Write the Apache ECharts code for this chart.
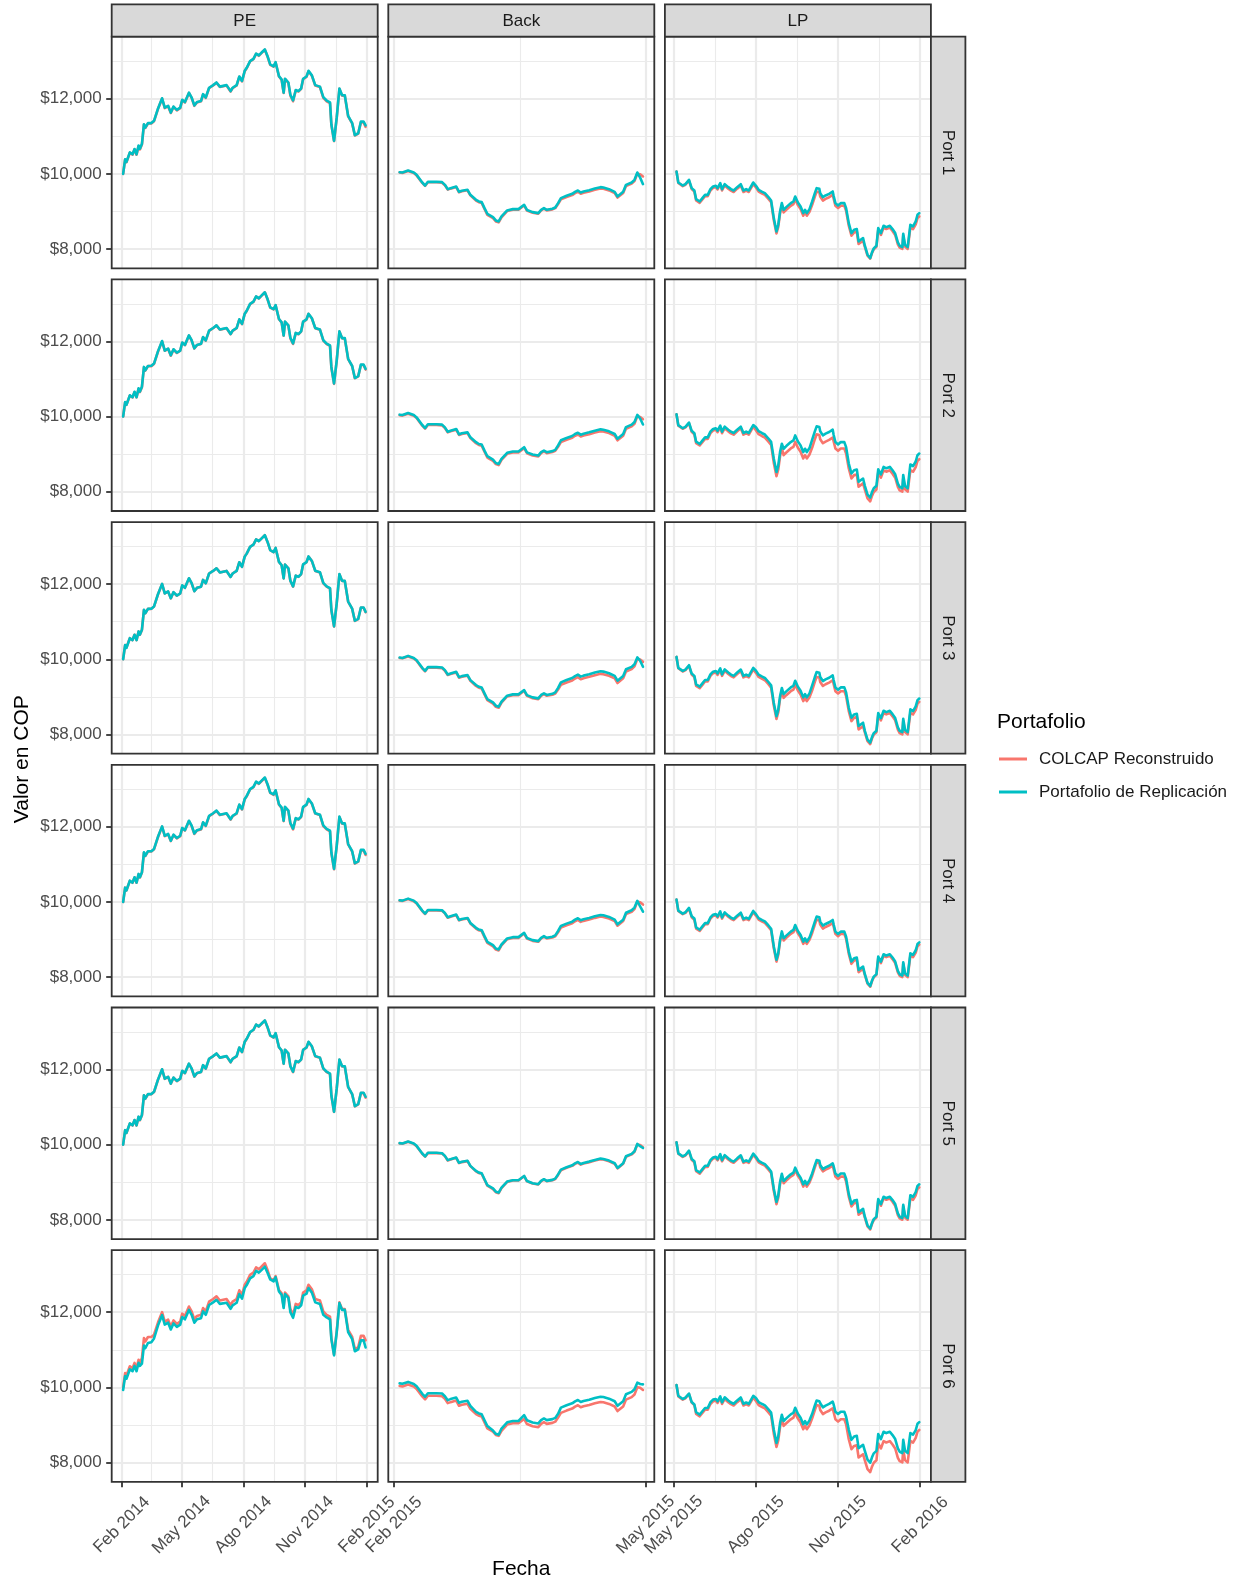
<!DOCTYPE html>
<html>
<head>
<meta charset="utf-8">
<script src="https://cdn.jsdelivr.net/npm/echarts@6/dist/echarts.min.js"></script>
<style>
  html, body { margin: 0; padding: 0; background: #ffffff; }
  #chart { width: 1241px; height: 1585px; }
</style>
</head>
<body>
<div id="chart"></div>
<script>
// ---------- Datos ----------
const periodos = ['PE', 'Back', 'LP'];
const portafolios = ['Port 1', 'Port 2', 'Port 3', 'Port 4', 'Port 5', 'Port 6'];
const serieNombres = ['COLCAP Reconstruido', 'Portafolio de Replicación'];

const yCortes = [8000, 10000, 12000];
const yCortesMenores = [9000, 11000, 13000];
const yRango = [7488, 13648];

const cortesPE = ['2014-02-01', '2014-05-01', '2014-08-01', '2014-11-01', '2015-02-01'];
const cortesBack = ['2015-02-01', '2015-05-01'];
const cortesLP = ['2015-05-01', '2015-08-01', '2015-11-01', '2016-02-01'];
const rangoPE = ['2014-01-17', '2015-02-17'];
const rangoBack = ['2015-01-30', '2015-05-04'];
const rangoLP = ['2015-04-21', '2016-02-13'];

// Periodo de estimación (PE)
const fechasPE = ['2014-02-03','2014-02-06','2014-02-08','2014-02-13','2014-02-17','2014-02-20','2014-02-23','2014-02-26','2014-02-28',
'2014-03-03','2014-03-06','2014-03-08','2014-03-12','2014-03-17','2014-03-21','2014-03-27',
'2014-04-02','2014-04-06','2014-04-11','2014-04-15','2014-04-19','2014-04-24','2014-04-29',
'2014-05-02','2014-05-06','2014-05-12','2014-05-16','2014-05-20','2014-05-24','2014-05-30',
'2014-06-02','2014-06-06','2014-06-11','2014-06-17','2014-06-22','2014-06-27',
'2014-07-07','2014-07-13','2014-07-16','2014-07-22','2014-07-26','2014-07-30',
'2014-08-03','2014-08-06','2014-08-11','2014-08-16','2014-08-20','2014-08-24','2014-08-29',
'2014-09-02','2014-09-06','2014-09-10','2014-09-15','2014-09-18','2014-09-23','2014-09-27','2014-09-30',
'2014-10-02','2014-10-04','2014-10-07','2014-10-10','2014-10-14','2014-10-18','2014-10-22','2014-10-26','2014-10-29',
'2014-11-03','2014-11-06','2014-11-11','2014-11-16','2014-11-23','2014-11-28',
'2014-12-03','2014-12-05','2014-12-08','2014-12-10','2014-12-14','2014-12-18','2014-12-22','2014-12-26','2014-12-30',
'2015-01-04','2015-01-10','2015-01-14','2015-01-19','2015-01-23','2015-01-27','2015-01-30'];
const colcapPE = [10000,10380,10310,10560,10510,10650,10510,10735,10650,10780,
11310,11220,11340,11340,11400,11730,12000,11750,11800,11620,
11780,11690,11750,11960,11900,12150,12020,11810,11900,11930,
12110,12020,12280,12350,12420,12310,12350,12190,12280,12350,
12580,12460,12730,12810,12990,13050,13190,13140,13230,13300,
13120,12900,12850,12960,12590,12500,12150,12520,12550,12420,
12080,11930,12220,12190,12260,12520,12580,12730,12610,12350,
12310,12020,11930,11970,11880,11310,10870,11490,12260,12080,
12080,11530,11340,11020,11070,11370,11370,11250];
const replicaPE1 = [10000,10390,10320,10570,10520,10660,10520,10755,10670,10800,
11320,11230,11350,11350,11410,11740,12010,11760,11810,11630,
11790,11700,11760,11970,11910,12160,12030,11820,11910,11940,
12120,12030,12290,12360,12430,12320,12360,12200,12290,12360,
12590,12470,12740,12820,13000,13060,13200,13150,13240,13310,
13130,12910,12860,12970,12600,12510,12160,12530,12560,12430,
12105,11955,12230,12200,12270,12530,12590,12740,12620,12360,
12320,12040,11950,11990,11900,11320,10880,11500,12270,12090,
12090,11540,11350,11030,11080,11390,11390,11290];
const replicaPE2 = [10000,10385,10315,10565,10515,10660,10515,10750,10665,10795,
11320,11230,11345,11350,11410,11740,12010,11755,11810,11630,
11790,11700,11755,11970,11905,12160,12030,11815,11905,11935,
12115,12025,12285,12355,12425,12315,12355,12195,12285,12355,
12585,12465,12735,12815,12995,13055,13195,13145,13235,13305,
13125,12905,12855,12965,12595,12505,12155,12525,12555,12425,
12095,11945,12225,12195,12265,12525,12585,12735,12615,12355,
12315,12030,11940,11980,11890,11320,10880,11495,12265,12085,
12085,11535,11345,11025,11075,11380,11380,11270];
const replicaPE3 = [10000,10375,10305,10560,10510,10650,10510,10740,10655,10785,
11315,11225,11340,11345,11405,11735,12005,11750,11805,11625,
11785,11695,11750,11965,11900,12155,12025,11810,11900,11930,
12110,12020,12280,12350,12420,12310,12350,12190,12280,12350,
12580,12460,12730,12810,12990,13050,13190,13140,13230,13300,
13120,12900,12850,12960,12590,12500,12150,12520,12550,12420,
12090,11940,12225,12195,12265,12525,12585,12735,12615,12355,
12315,12030,11940,11980,11890,11315,10875,11495,12265,12085,
12085,11535,11345,11025,11075,11375,11375,11260];
const replicaPE4 = [10000,10380,10310,10565,10515,10655,10515,10745,10660,10790,
11320,11230,11350,11350,11410,11740,12010,11760,11810,11630,
11790,11700,11760,11970,11910,12160,12030,11820,11910,11940,
12120,12030,12290,12360,12430,12320,12360,12200,12290,12360,
12590,12470,12740,12820,13000,13060,13200,13150,13240,13310,
13130,12910,12860,12970,12600,12510,12160,12530,12560,12430,
12100,11950,12230,12200,12270,12530,12590,12740,12620,12360,
12320,12035,11945,11985,11895,11320,10880,11500,12270,12090,
12090,11540,11350,11030,11080,11385,11385,11280];
const replicaPE5 = [10000,10385,10315,10565,10515,10655,10515,10745,10660,10790,
11315,11225,11345,11345,11405,11735,12005,11755,11805,11625,
11785,11695,11755,11965,11905,12155,12025,11815,11905,11935,
12115,12025,12285,12355,12425,12315,12355,12195,12285,12355,
12585,12465,12735,12815,12995,13055,13195,13145,13235,13305,
13125,12905,12855,12965,12595,12505,12155,12525,12555,12425,
12090,11940,12225,12195,12265,12525,12585,12735,12615,12355,
12315,12030,11940,11980,11890,11315,10875,11495,12265,12085,
12085,11535,11345,11025,11075,11380,11380,11275];
const replicaPE6 = [9930,10300,10230,10480,10430,10570,10430,10655,10570,10630,
11110,11040,11180,11200,11300,11650,11920,11670,11720,11540,
11700,11610,11670,11870,11810,12060,11930,11720,11810,11840,
12020,11930,12190,12260,12330,12220,12250,12090,12180,12250,
12480,12360,12640,12720,12900,12960,13100,13050,13140,13210,
13050,12870,12820,12930,12550,12460,12110,12480,12510,12380,
12000,11850,12140,12110,12180,12440,12490,12640,12520,12260,
12220,11930,11860,11900,11810,11290,10850,11470,12240,12060,
12060,11470,11280,10960,11010,11250,11250,11060];

// Backtest (Back)
const fechasBack = ['2015-02-03','2015-02-04','2015-02-06','2015-02-08','2015-02-09','2015-02-11','2015-02-12','2015-02-13','2015-02-16','2015-02-18',
'2015-02-19','2015-02-20','2015-02-21','2015-02-23','2015-02-24','2015-02-25','2015-02-27','2015-02-28',
'2015-03-02','2015-03-03','2015-03-04','2015-03-05','2015-03-06','2015-03-08','2015-03-09','2015-03-10','2015-03-11','2015-03-13',
'2015-03-15','2015-03-17','2015-03-19','2015-03-20','2015-03-22','2015-03-24','2015-03-25','2015-03-26','2015-03-27','2015-03-29','2015-03-30','2015-03-31',
'2015-04-01','2015-04-03','2015-04-05','2015-04-06','2015-04-07','2015-04-08','2015-04-09','2015-04-11','2015-04-13','2015-04-15',
'2015-04-16','2015-04-18','2015-04-20','2015-04-21','2015-04-23','2015-04-24','2015-04-26','2015-04-27','2015-04-28','2015-04-29','2015-04-30'];
const colcapBack = [10035,10025,10075,10020,9960,9758,9680,9775,9775,9765,9695,9580,9607,9650,9510,9535,9562,9428,
9290,9245,9225,9065,8910,8820,8735,8710,8845,9010,9045,9045,9160,9025,8965,8940,9028,9072,9028,9055,9088,9195,
9320,9382,9435,9488,9523,9470,9497,9532,9577,9612,9603,9560,9490,9368,9492,9675,9740,9810,10005,9990,9930];
const replicaBack1 = [10044,10035,10088,10035,9973,9770,9690,9788,9788,9779,9708,9593,9620,9664,9522,9549,9575,9442,
9310,9265,9248,9088,8938,8850,8761,8735,8867,9027,9062,9062,9177,9040,8982,8956,9044,9088,9044,9071,9106,9221,
9354,9416,9469,9522,9558,9505,9531,9566,9611,9646,9637,9593,9522,9398,9522,9708,9770,9841,10035,9900,9726];
const replicaBack2 = [10050,10040,10095,10040,9978,9775,9695,9795,9795,9785,9712,9598,9625,9670,9528,9555,9580,9448,
9318,9270,9255,9095,8945,8855,8765,8740,8875,9035,9070,9070,9185,9048,8990,8962,9052,9095,9052,9080,9115,9232,
9368,9430,9482,9535,9570,9518,9545,9580,9625,9660,9650,9606,9535,9410,9535,9720,9785,9855,10045,9950,9790];
const replicaBack3 = [10045,10035,10090,10035,9975,9772,9692,9790,9790,9780,9710,9596,9622,9666,9525,9552,9578,9445,
9315,9268,9250,9092,8942,8852,8765,8738,8870,9030,9066,9066,9180,9045,8986,8960,9050,9094,9050,9080,9118,9240,
9385,9448,9500,9552,9590,9538,9565,9600,9645,9680,9672,9628,9556,9430,9552,9735,9798,9868,10050,9960,9800];
const replicaBack4 = [10044,10035,10088,10035,9973,9770,9690,9788,9788,9779,9708,9593,9620,9664,9522,9549,9575,9442,
9312,9266,9250,9090,8940,8852,8762,8736,8868,9028,9064,9064,9178,9042,8984,8958,9046,9090,9046,9074,9110,9228,
9362,9424,9476,9530,9566,9512,9538,9574,9620,9655,9646,9602,9530,9405,9528,9712,9778,9850,10030,9880,9740];
const replicaBack5 = [10040,10030,10082,10030,9968,9765,9686,9783,9783,9773,9702,9588,9615,9658,9518,9543,9570,9436,
9300,9256,9238,9078,8925,8836,8750,8724,8856,9018,9053,9053,9168,9032,8973,8948,9036,9080,9036,9063,9097,9208,
9335,9398,9450,9504,9540,9487,9514,9549,9594,9629,9620,9576,9506,9382,9506,9690,9756,9826,10020,9960,9910];
const replicaBack6 = [10105,10095,10145,10090,10030,9828,9750,9845,9845,9835,9765,9660,9687,9730,9590,9615,9642,9508,
9350,9305,9285,9125,8970,8850,8765,8740,8905,9070,9105,9105,9260,9125,9065,9040,9128,9172,9128,9155,9188,9295,
9460,9522,9575,9628,9663,9610,9637,9672,9717,9752,9743,9700,9630,9508,9632,9815,9880,9950,10125,10090,10080];

// Largo plazo (LP)
const fechasLP = ['2015-05-04','2015-05-06','2015-05-08','2015-05-11','2015-05-14','2015-05-18','2015-05-21','2015-05-24','2015-05-26','2015-05-30',
'2015-06-02','2015-06-05','2015-06-08','2015-06-11','2015-06-14','2015-06-17','2015-06-19','2015-06-22','2015-06-24','2015-06-27',
'2015-07-01','2015-07-04','2015-07-07','2015-07-11','2015-07-13','2015-07-15','2015-07-18','2015-07-21','2015-07-24','2015-07-26',
'2015-07-29','2015-08-01','2015-08-04','2015-08-08','2015-08-11','2015-08-15','2015-08-18','2015-08-21','2015-08-24','2015-08-26',
'2015-08-28','2015-08-30','2015-09-01','2015-09-04','2015-09-06','2015-09-09','2015-09-12','2015-09-14','2015-09-17','2015-09-20',
'2015-09-23','2015-09-25','2015-09-27','2015-09-30','2015-10-03','2015-10-06','2015-10-08','2015-10-11','2015-10-12','2015-10-15',
'2015-10-18','2015-10-22','2015-10-26','2015-10-27','2015-10-29','2015-11-01','2015-11-04','2015-11-08','2015-11-10','2015-11-13',
'2015-11-16','2015-11-19','2015-11-22','2015-11-24','2015-11-26','2015-11-29','2015-12-01','2015-12-04','2015-12-07','2015-12-09',
'2015-12-11','2015-12-14','2015-12-16','2015-12-19','2015-12-22','2015-12-25','2015-12-29','2016-01-01','2016-01-04','2016-01-07',
'2016-01-09','2016-01-12','2016-01-13','2016-01-15','2016-01-18','2016-01-21','2016-01-24','2016-01-27','2016-01-29','2016-01-31'];
const colcapLP = [10062,9760,9742,9675,9711,9821,9595,9528,9292,9230,
9319,9407,9407,9558,9629,9647,9585,9717,9558,9691,
9606,9553,9518,9606,9553,9686,9518,9553,9518,9553,
9730,9637,9530,9477,9442,9335,9247,8768,8414,8591,
8945,9166,8974,9045,8992,9151,9195,9328,9169,9063,
8886,8974,8886,8992,9175,9397,9530,9512,9397,9290,
9335,9379,9441,9346,9151,9089,9151,9151,9018,8620,
8355,8443,8461,8134,8107,8222,8058,7825,7745,7890,
7995,8060,8508,8375,8570,8534,8570,8481,8375,8127,
8038,8003,8357,8065,8003,8576,8532,8655,8822,8866];
const replicaLP1 = [10062,9770,9752,9690,9726,9841,9620,9558,9327,9265,
9354,9442,9442,9593,9664,9682,9620,9752,9593,9726,
9646,9593,9558,9646,9593,9726,9558,9593,9558,9593,
9770,9682,9575,9522,9487,9380,9292,8823,8469,8646,
9000,9221,9044,9115,9062,9221,9265,9398,9239,9133,
8956,9044,8956,9062,9265,9487,9620,9602,9487,9380,
9425,9469,9531,9416,9221,9159,9221,9221,9088,8690,
8425,8513,8531,8204,8177,8292,8088,7850,7761,7912,
8018,8088,8558,8425,8620,8584,8620,8531,8425,8177,
8088,8053,8407,8115,8053,8646,8602,8735,8912,8956];
const replicaLP2 = [10062,9770,9752,9690,9726,9841,9620,9558,9332,9270,
9359,9447,9447,9598,9669,9687,9625,9757,9598,9731,
9651,9598,9563,9651,9598,9731,9563,9598,9563,9598,
9775,9717,9610,9557,9522,9415,9327,8878,8524,8701,
9055,9276,9144,9215,9162,9321,9365,9498,9339,9233,
9056,9144,9056,9162,9385,9607,9740,9722,9607,9500,
9545,9589,9651,9516,9321,9259,9321,9321,9188,8750,
8485,8573,8591,8264,8237,8352,8158,7925,7845,7990,
8095,8160,8598,8465,8660,8624,8660,8571,8465,8217,
8128,8093,8447,8155,8093,8726,8682,8805,8972,9016];
const replicaLP3 = [10062,9770,9752,9690,9726,9841,9620,9558,9332,9270,
9359,9447,9447,9598,9669,9687,9625,9757,9598,9731,
9646,9593,9558,9646,9593,9726,9558,9593,9558,9593,
9770,9697,9590,9537,9502,9395,9307,8838,8484,8661,
9015,9236,9074,9145,9092,9251,9295,9428,9269,9163,
8986,9074,8986,9092,9305,9527,9660,9642,9527,9420,
9465,9509,9571,9446,9251,9189,9251,9251,9118,8710,
8445,8533,8551,8224,8197,8312,8098,7865,7785,7930,
8035,8100,8568,8435,8630,8594,8630,8541,8435,8187,
8098,8063,8417,8125,8063,8666,8622,8745,8912,8956];
const replicaLP4 = [10062,9770,9752,9690,9726,9841,9620,9558,9322,9260,
9349,9437,9437,9588,9659,9677,9615,9747,9588,9721,
9636,9583,9548,9636,9583,9716,9548,9583,9548,9583,
9760,9677,9570,9517,9482,9375,9287,8818,8464,8641,
8995,9216,9034,9105,9052,9211,9255,9388,9229,9123,
8946,9034,8946,9052,9255,9477,9610,9592,9477,9370,
9415,9459,9521,9406,9211,9149,9211,9211,9078,8680,
8415,8503,8521,8194,8167,8282,8078,7845,7765,7910,
8015,8080,8548,8415,8610,8574,8610,8521,8415,8167,
8078,8043,8397,8105,8043,8636,8592,8715,8882,8926];
const replicaLP5 = [10062,9770,9752,9690,9726,9841,9620,9558,9322,9260,
9349,9437,9437,9588,9659,9677,9615,9747,9588,9721,
9636,9583,9548,9636,9583,9716,9548,9583,9548,9583,
9760,9677,9570,9517,9482,9375,9287,8828,8474,8651,
9005,9226,9034,9105,9052,9211,9255,9388,9229,9123,
8946,9034,8946,9052,9235,9457,9590,9572,9457,9350,
9395,9439,9501,9426,9231,9169,9231,9231,9098,8690,
8425,8513,8531,8204,8177,8292,8083,7850,7770,7915,
8020,8085,8553,8420,8615,8579,8615,8526,8420,8172,
8083,8048,8402,8110,8048,8656,8612,8735,8902,8946];
const replicaLP6 = [10062,9775,9757,9690,9726,9836,9610,9543,9337,9275,
9364,9452,9452,9603,9674,9692,9630,9762,9603,9736,
9651,9598,9563,9651,9598,9731,9563,9598,9563,9598,
9775,9717,9610,9557,9522,9415,9327,8873,8519,8696,
9050,9271,9104,9175,9122,9281,9325,9458,9299,9193,
9016,9104,9016,9122,9295,9517,9650,9632,9577,9470,
9515,9559,9621,9546,9351,9289,9351,9351,9218,8870,
8605,8693,8711,8384,8357,8472,8308,8075,7995,8140,
8245,8310,8758,8625,8820,8784,8820,8731,8625,8377,
8288,8253,8607,8315,8253,8786,8742,8865,9032,9076];

// ---------- Estructura de las facetas ----------
const columnas = [
  { fechas: fechasPE, colcap: colcapPE, replicas: [replicaPE1, replicaPE2, replicaPE3, replicaPE4, replicaPE5, replicaPE6], cortes: cortesPE, rango: rangoPE },
  { fechas: fechasBack, colcap: colcapBack, replicas: [replicaBack1, replicaBack2, replicaBack3, replicaBack4, replicaBack5, replicaBack6], cortes: cortesBack, rango: rangoBack },
  { fechas: fechasLP, colcap: colcapLP, replicas: [replicaLP1, replicaLP2, replicaLP3, replicaLP4, replicaLP5, replicaLP6], cortes: cortesLP, rango: rangoLP }
];

const MESES = ['Ene','Feb','Mar','Abr','May','Jun','Jul','Ago','Sep','Oct','Nov','Dic'];
const FUENTE = '"Liberation Sans", Arial, Helvetica, sans-serif';
const COLORES = ['#F8766D', '#00BFC4'];
const GRIS_REJILLA = '#EBEBEB';
const GRIS_BORDE = '#333333';

const aTiempo = s => Date.parse(s);
const fmtFecha = v => { const d = new Date(v); return MESES[d.getUTCMonth()] + ' ' + d.getUTCFullYear(); };
const fmtPesos = v => '$' + Math.round(v).toLocaleString('en-US');

// Geometría de los paneles
const panelIzq = [111.7, 388.3, 664.9];
const panelAncho = 266;
const panelSup0 = 36.7;
const pasoFila = 242.7;
const panelAlto = 231.6;
const tiraSup = 4.3;
const tiraAncho = 34.5;

const grids = [], xAxes = [], yAxes = [], series = [], graficos = [];

for (let r = 0; r < 6; r++) {
  for (let c = 0; c < 3; c++) {
    const k = r * 3 + c;
    const col = columnas[c];
    const izq = panelIzq[c];
    const sup = panelSup0 + r * pasoFila;
    grids.push({ left: izq, top: sup, width: panelAncho, height: panelAlto, show: false, containLabel: false, outerBoundsMode: 'none' });

    const mayoresX = col.cortes.map(aTiempo);
    const menoresX = [];
    for (let i = 0; i < mayoresX.length - 1; i++) menoresX.push((mayoresX[i] + mayoresX[i + 1]) / 2);
    const xMin = aTiempo(col.rango[0]), xMax = aTiempo(col.rango[1]);
    const ultimaFila = r === 5;
    const primeraCol = c === 0;

    xAxes.push({
      type: 'value', gridIndex: k, min: xMin, max: xMax, position: 'bottom', z: 1,
      axisLine: { show: false },
      axisTick: { show: ultimaFila, customValues: mayoresX, length: 5.5, lineStyle: { color: GRIS_BORDE, width: 1.8 } },
      axisLabel: { show: ultimaFila, customValues: mayoresX, formatter: fmtFecha, rotate: 45, align: 'center', verticalAlign: 'middle',
                   margin: 43, fontSize: 17, color: '#4D4D4D', fontFamily: FUENTE },
      splitLine: { show: true, lineStyle: { color: GRIS_REJILLA, width: 2.2 } }
    });
    xAxes.push({
      type: 'value', gridIndex: k, min: xMin, max: xMax, position: 'bottom', z: 0,
      axisLine: { show: false },
      axisTick: { show: false, customValues: menoresX },
      axisLabel: { show: false },
      splitLine: { show: true, lineStyle: { color: GRIS_REJILLA, width: 1.1 } }
    });
    yAxes.push({
      type: 'value', gridIndex: k, min: yRango[0], max: yRango[1], position: 'left', z: 1,
      axisLine: { show: false },
      axisTick: { show: primeraCol, customValues: yCortes, length: 5.5, lineStyle: { color: GRIS_BORDE, width: 1.8 } },
      axisLabel: { show: primeraCol, customValues: yCortes, formatter: fmtPesos, margin: 10, fontSize: 17, color: '#4D4D4D', fontFamily: FUENTE },
      splitLine: { show: true, lineStyle: { color: GRIS_REJILLA, width: 2.2 } }
    });
    yAxes.push({
      type: 'value', gridIndex: k, min: yRango[0], max: yRango[1], position: 'left', z: 0,
      axisLine: { show: false },
      axisTick: { show: false, customValues: yCortesMenores },
      axisLabel: { show: false },
      splitLine: { show: true, lineStyle: { color: GRIS_REJILLA, width: 1.1 } }
    });

    const valores = [col.colcap, col.replicas[r]];
    valores.forEach((vals, s) => {
      series.push({
        type: 'line', name: serieNombres[s], xAxisIndex: 2 * k, yAxisIndex: 2 * k,
        data: col.fechas.map((f, i) => [aTiempo(f), vals[i]]),
        color: COLORES[s], showSymbol: false, symbol: 'none', smooth: false, clip: true, silent: true,
        lineStyle: { color: COLORES[s], width: 2.6, join: 'round', cap: 'round' },
        z: 2 + s, animation: false
      });
    });

    // borde del panel
    graficos.push({ type: 'rect', z: 50, silent: true,
      shape: { x: izq, y: sup, width: panelAncho, height: panelAlto },
      style: { fill: null, stroke: GRIS_BORDE, lineWidth: 1.8 } });
  }
}

// Tiras superiores (periodos)
periodos.forEach((p, c) => {
  graficos.push({ type: 'rect', z: 50, silent: true,
    shape: { x: panelIzq[c], y: tiraSup, width: panelAncho, height: panelSup0 - tiraSup },
    style: { fill: '#D9D9D9', stroke: GRIS_BORDE, lineWidth: 1.8 } });
  graficos.push({ type: 'text', z: 51, silent: true,
    x: panelIzq[c] + panelAncho / 2, y: (tiraSup + panelSup0) / 2 + 0.5,
    style: { text: p, align: 'center', verticalAlign: 'middle', fontSize: 17, fill: '#1A1A1A', fontFamily: FUENTE } });
});

// Tiras laterales (portafolios)
portafolios.forEach((p, r) => {
  const sup = panelSup0 + r * pasoFila;
  const x0 = panelIzq[2] + panelAncho;
  graficos.push({ type: 'rect', z: 50, silent: true,
    shape: { x: x0, y: sup, width: tiraAncho, height: panelAlto },
    style: { fill: '#D9D9D9', stroke: GRIS_BORDE, lineWidth: 1.8 } });
  graficos.push({ type: 'text', z: 51, silent: true,
    x: x0 + tiraAncho / 2, y: sup + panelAlto / 2, rotation: -Math.PI / 2,
    style: { text: p, align: 'center', verticalAlign: 'middle', fontSize: 17, fill: '#1A1A1A', fontFamily: FUENTE } });
});

// Títulos de ejes y de la leyenda
const centroY = panelSup0 + (5 * pasoFila + panelAlto) / 2;
graficos.push({ type: 'text', z: 51, silent: true, x: 22, y: centroY, rotation: Math.PI / 2,
  style: { text: 'Valor en COP', align: 'center', verticalAlign: 'middle', fontSize: 21, fill: '#000000', fontFamily: FUENTE } });
graficos.push({ type: 'text', z: 51, silent: true, x: panelIzq[0] + (panelIzq[2] + panelAncho - panelIzq[0]) / 2, y: 1569,
  style: { text: 'Fecha', align: 'center', verticalAlign: 'middle', fontSize: 21, fill: '#000000', fontFamily: FUENTE } });
graficos.push({ type: 'text', z: 51, silent: true, x: 997, y: 722,
  style: { text: 'Portafolio', align: 'left', verticalAlign: 'middle', fontSize: 21, fill: '#000000', fontFamily: FUENTE } });

const chart = echarts.init(document.getElementById('chart'), null, { renderer: 'canvas', width: 1241, height: 1585 });
chart.setOption({
  animation: false,
  backgroundColor: '#ffffff',
  grid: grids,
  xAxis: xAxes,
  yAxis: yAxes,
  series: series,
  legend: {
    data: serieNombres, orient: 'vertical', left: 999, top: 749, padding: 0,
    itemWidth: 28, itemHeight: 3, itemGap: 13, icon: 'rect', selectedMode: false,
    textStyle: { fontSize: 17, color: '#1A1A1A', fontFamily: FUENTE, lineHeight: 20, padding: [0, 0, 0, 7] }
  },
  graphic: graficos
});
</script>
</body>
</html>
